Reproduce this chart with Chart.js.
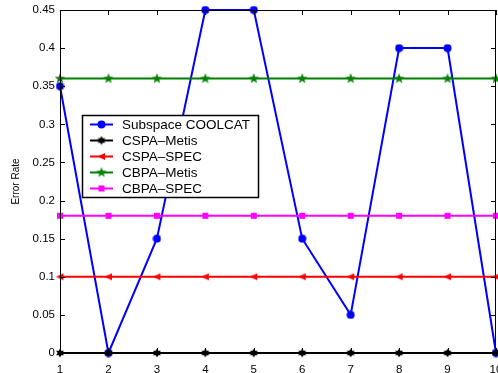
<!DOCTYPE html>
<html>
<head>
<meta charset="utf-8">
<script src="https://cdn.jsdelivr.net/npm/chart.js@4.4.1/dist/chart.umd.min.js"></script>
<style>
  html, body { margin: 0; padding: 0; background: #fff; }
  #wrap { position: relative; width: 498px; height: 373px; }
</style>
</head>
<body>
<div id="wrap"><canvas id="chart"></canvas></div>
<script>
"use strict";

// x positions (runs) and tick labels
var runs = ["1", "2", "3", "4", "5", "6", "7", "8", "9", "10"];
var yTickLabels = ["0", "0.05", "0.1", "0.15", "0.2", "0.25", "0.3", "0.35", "0.4", "0.45"];

// error rate per run
var subspaceCoolcat = [0.35, 0, 0.15, 0.45, 0.45, 0.15, 0.05, 0.4, 0.4, 0];
var cspaMetis       = [0, 0, 0, 0, 0, 0, 0, 0, 0, 0];
var cspaSpec        = [0.1, 0.1, 0.1, 0.1, 0.1, 0.1, 0.1, 0.1, 0.1, 0.1];
var cbpaMetis       = [0.36, 0.36, 0.36, 0.36, 0.36, 0.36, 0.36, 0.36, 0.36, 0.36];
var cbpaSpec        = [0.18, 0.18, 0.18, 0.18, 0.18, 0.18, 0.18, 0.18, 0.18, 0.18];

var FONT = "'Liberation Sans', Arial, Helvetica, sans-serif";

// small canvases used as point styles (matlab-like markers)
function marker(shape, color, size) {
  var c = document.createElement("canvas");
  c.width = size; c.height = size;
  var g = c.getContext("2d");
  var cx = size / 2, cy = size / 2;
  g.fillStyle = color;
  g.beginPath();
  if (shape === "circle") {
    g.arc(cx, cy, size / 2 - 0.5, 0, Math.PI * 2);
  } else if (shape === "square") {
    g.rect(1, 1, size - 2, size - 2);
  } else if (shape === "left") {
    g.moveTo(0.5, cy);
    g.lineTo(size - 1, 1);
    g.lineTo(size - 1, size - 1);
    g.closePath();
  } else if (shape === "star5" || shape === "star6") {
    var n = shape === "star5" ? 5 : 6;
    var ro = size / 2 - 0.5, ri = shape === "star5" ? ro * 0.42 : ro * 0.55;
    for (var i = 0; i < n * 2; i++) {
      var a = -Math.PI / 2 + i * Math.PI / n;
      var r = i % 2 ? ri : ro;
      if (i === 0) g.moveTo(cx + r * Math.cos(a), cy + r * Math.sin(a));
      else g.lineTo(cx + r * Math.cos(a), cy + r * Math.sin(a));
    }
    g.closePath();
  }
  g.fill();
  return c;
}

var series = [
  { label: "Subspace COOLCAT", data: subspaceCoolcat, color: "#0000ff", width: 2, mk: marker("circle", "#0000ff", 9) },
  { label: "CSPA\u2013Metis",  data: cspaMetis,       color: "#000000", width: 2, mk: marker("star6", "#000000", 10) },
  { label: "CSPA\u2013SPEC",   data: cspaSpec,        color: "#ff0000", width: 2, mk: marker("left", "#ff0000", 9) },
  { label: "CBPA\u2013Metis",  data: cbpaMetis,       color: "#008000", width: 2, mk: marker("star5", "#008000", 12) },
  { label: "CBPA\u2013SPEC",   data: cbpaSpec,        color: "#ff00ff", width: 2, mk: marker("square", "#ff00ff", 8) }
];

// box, inward ticks, x labels, y title and the legend
var axesBox = {
  id: "axesBox",
  afterDraw: function(chart) {
    var ctx = chart.ctx, a = chart.chartArea;
    var xs = chart.scales.x, ys = chart.scales.y;
    ctx.save();
    ctx.strokeStyle = "#000";
    ctx.lineWidth = 1;
    ctx.strokeRect(a.left + 0.5, a.top + 0.5, a.right - a.left - 1, a.bottom - a.top - 1);
    ctx.beginPath();
    runs.forEach(function(r, i) {
      var x = Math.round(xs.getPixelForValue(i)) + 0.5;
      ctx.moveTo(x, a.bottom); ctx.lineTo(x, a.bottom - 5);
      ctx.moveTo(x, a.top); ctx.lineTo(x, a.top + 5);
    });
    yTickLabels.forEach(function(t) {
      var y = Math.round(ys.getPixelForValue(parseFloat(t))) + 0.5;
      ctx.moveTo(a.left, y); ctx.lineTo(a.left + 5, y);
      ctx.moveTo(a.right, y); ctx.lineTo(a.right - 5, y);
    });
    ctx.stroke();

    ctx.fillStyle = "#000";
    ctx.font = "11.5px " + FONT;
    ctx.textAlign = "center";
    ctx.textBaseline = "top";
    runs.forEach(function(r, i) {
      ctx.fillText(r, xs.getPixelForValue(i), a.bottom + 11);
    });

    ctx.save();
    ctx.translate(16, (a.top + a.bottom) / 2);
    ctx.rotate(-Math.PI / 2);
    ctx.font = "10px " + FONT;
    ctx.textBaseline = "middle";
    ctx.fillText("Error Rate", 0, 0);
    ctx.restore();

    // legend
    var lx = 82, ly = 115, lw = 176, lh = 82, rowH = 16;
    ctx.fillStyle = "#fff";
    ctx.fillRect(lx, ly, lw, lh);
    ctx.strokeStyle = "#000";
    ctx.lineWidth = 1.5;
    ctx.strokeRect(lx + 0.5, ly + 0.5, lw, lh);
    ctx.font = "13.5px " + FONT;
    ctx.textAlign = "left";
    ctx.textBaseline = "middle";
    series.forEach(function(s, i) {
      var y = ly + 9.5 + i * rowH;
      ctx.strokeStyle = s.color;
      ctx.lineWidth = s.width;
      ctx.beginPath();
      ctx.moveTo(90, y); ctx.lineTo(113, y);
      ctx.stroke();
      ctx.drawImage(s.mk, 101.5 - s.mk.width / 2, y - s.mk.height / 2);
      ctx.fillStyle = "#000";
      ctx.fillText(s.label, 122, y + 0.5);
    });
    ctx.restore();
  }
};

new Chart(document.getElementById("chart"), {
  type: "line",
  data: {
    labels: runs,
    datasets: series.map(function(s, i) {
      return {
        label: s.label,
        data: s.data,
        borderColor: s.color,
        backgroundColor: s.color,
        borderWidth: s.width,
        pointStyle: s.mk,
        pointRadius: 5,
        pointHoverRadius: 5,
        tension: 0,
        fill: false,
        clip: false,
        order: series.length - i
      };
    })
  },
  options: {
    responsive: true,
    maintainAspectRatio: false,
    animation: false,
    events: [],
    layout: { autoPadding: false, padding: { left: 0, right: 2, top: 10, bottom: 0 } },
    plugins: { legend: { display: false }, tooltip: { enabled: false } },
    scales: {
      x: {
        type: "category",
        offset: false,
        grid: { display: false },
        border: { display: false },
        ticks: { display: false },
        afterFit: function(s) { s.height = 20; s.paddingLeft = 0; s.paddingRight = 0; }
      },
      y: {
        min: 0,
        max: 0.45,
        grid: { display: false, drawTicks: false },
        border: { display: false },
        ticks: {
          stepSize: 0.05,
          padding: 5,
          color: "#000",
          font: { family: FONT, size: 11.5 },
          callback: function(v, i) { return yTickLabels[i]; }
        },
        afterFit: function(s) { s.width = 60; s.paddingTop = 0; s.paddingBottom = 0; }
      }
    }
  },
  plugins: [axesBox]
});
</script>
</body>
</html>
